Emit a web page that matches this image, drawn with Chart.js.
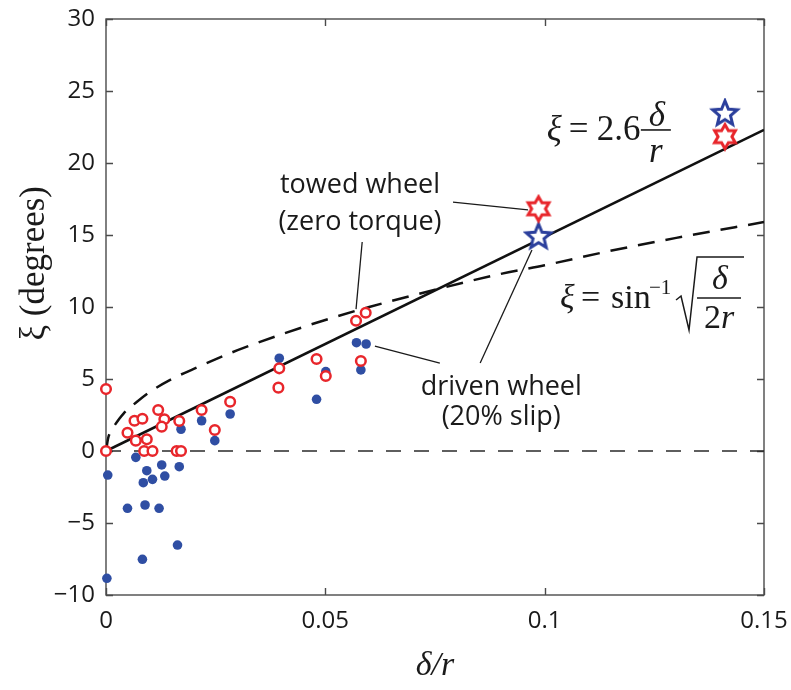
<!DOCTYPE html>
<html>
<head>
<meta charset="utf-8">
<script src="https://cdn.jsdelivr.net/npm/chart.js@4/dist/chart.umd.min.js"></script>
<style>
  html, body { margin: 0; padding: 0; background: #ffffff; }
  #wrap { width: 791px; height: 690px; }
</style>
</head>
<body>
<div id="wrap"><canvas id="c" width="791" height="690"></canvas></div>
<script>
// ---- data ----
const xTicks = [0, 0.05, 0.1, 0.15];
const xTickLabels = ['0', '0.05', '0.1', '0.15'];
const yTicks = [-10, -5, 0, 5, 10, 15, 20, 25, 30];
const yTickLabels = ['\u221210', '\u22125', '0', '5', '10', '15', '20', '25', '30'];

// towed wheel (zero torque) – red open circles
const towedX = [0, 0, 0.0049, 0.0065, 0.0083, 0.0068, 0.0093, 0.0087, 0.0106, 0.0119, 0.0133, 0.0127, 0.0167, 0.0161, 0.0171, 0.0218, 0.0248, 0.0283, 0.0395, 0.0393, 0.0480, 0.0501, 0.0581, 0.0570, 0.0592];
const towedY = [4.3, 0, 1.27, 2.10, 2.24, 0.72, 0.81, 0, 0, 2.85, 2.20, 1.69, 2.08, 0, 0, 2.85, 1.46, 3.42, 5.74, 4.40, 6.39, 5.21, 6.25, 9.05, 9.60];

// driven wheel (20% slip) – blue filled dots
const drivenX = [0.0171, 0.0218, 0.0248, 0.0283, 0.0068, 0.0004, 0.0093, 0.0085, 0.0106, 0.0127, 0.0134, 0.0167, 0.0049, 0.0089, 0.0121, 0.0163, 0.0083, 0.0002, 0.0395, 0.0501, 0.0480, 0.0581, 0.0571, 0.0593];
const drivenY = [1.51, 2.10, 0.72, 2.57, -0.44, -1.67, -1.37, -2.20, -1.97, -0.97, -1.74, -1.09, -3.98, -3.75, -3.98, -6.53, -7.52, -8.84, 6.44, 5.51, 3.59, 5.63, 7.52, 7.43];

// stars
const towedStarX = [0.0986, 0.1411];
const towedStarY = [16.82, 21.83];
const drivenStarX = [0.0986, 0.1411];
const drivenStarY = [14.87, 23.42];

// xi = 2.6 delta/r (solid line)
const fitX = [0, 0.15];
const fitY = [0, 22.3];

// xi = asin(sqrt(delta/2r)) (dashed curve)
const asinX = [0, 0.0005, 0.001, 0.002, 0.004, 0.007, 0.01, 0.015, 0.02, 0.03, 0.04, 0.05, 0.06, 0.075, 0.09, 0.1, 0.115, 0.13, 0.15];
const asinY = [0, 0.9, 1.3, 1.8, 2.6, 3.4, 4.1, 5.0, 5.7, 7.0, 8.1, 9.1, 10.0, 11.2, 12.3, 12.9, 13.9, 14.8, 15.9];

// zero reference line
const zeroX = [0, 0.15];
const zeroY = [0, 0];

const pts = (xs, ys) => xs.map((x, i) => ({ x: x, y: ys[i] }));

// ---- star marker images ----
function starCanvas(points, outerR, innerR, color) {
  const size = Math.ceil(outerR * 2 + 6);
  const c = document.createElement('canvas');
  c.width = size; c.height = size;
  const g = c.getContext('2d');
  const cx = size / 2, cy = size / 2;
  g.beginPath();
  for (let i = 0; i < points * 2; i++) {
    const r = i % 2 === 0 ? outerR : innerR;
    const a = -Math.PI / 2 + i * Math.PI / points;
    const px = cx + r * Math.cos(a), py = cy + r * Math.sin(a);
    if (i === 0) g.moveTo(px, py); else g.lineTo(px, py);
  }
  g.closePath();
  g.fillStyle = '#ffffff';
  g.fill();
  g.lineWidth = 3;
  g.lineJoin = 'miter';
  g.strokeStyle = color;
  g.stroke();
  return c;
}
const RED = '#e8262b';
const BLUE = '#2f4ea3';
const redStar = starCanvas(6, 12, 6.9, RED);
const blueStar = starCanvas(5, 13, 5.8, '#2b3f9c');

// ---- plugins ----
const boxPlugin = {
  id: 'box',
  beforeDatasetsDraw(chart) {
    const { ctx, chartArea: { left, right, top, bottom }, scales: { x, y } } = chart;
    ctx.save();
    ctx.strokeStyle = '#4a4a4a';
    ctx.lineWidth = 1.4;
    ctx.strokeRect(left, top, right - left, bottom - top);
    const L = 7;
    ctx.beginPath();
    x.ticks.forEach(t => {
      const p = Math.round(x.getPixelForValue(t.value)) + 0.5;
      ctx.moveTo(p, bottom); ctx.lineTo(p, bottom - L);
      ctx.moveTo(p, top); ctx.lineTo(p, top + L);
    });
    y.ticks.forEach(t => {
      const p = Math.round(y.getPixelForValue(t.value)) + 0.5;
      ctx.moveTo(left, p); ctx.lineTo(left + L, p);
      ctx.moveTo(right, p); ctx.lineTo(right - L, p);
    });
    ctx.stroke();
    ctx.restore();
  }
};

const notePlugin = {
  id: 'notes',
  afterDatasetsDraw(chart) {
    const { ctx, scales: { x, y } } = chart;
    const px = v => x.getPixelForValue(v);
    const py = v => y.getPixelForValue(v);
    ctx.save();
    ctx.fillStyle = '#1a1a1a';
    ctx.strokeStyle = '#1a1a1a';
    ctx.textBaseline = 'alphabetic';

    // labels
    ctx.font = '27px "Open Sans"';
    ctx.textAlign = 'center';
    ctx.fillText('towed wheel', px(0.0579), py(17.9));
    ctx.fillText('(zero torque)', px(0.0579), py(15.35));
    ctx.fillText('driven wheel', px(0.0901), py(3.89));
    ctx.fillText('(20% slip)', px(0.0901), py(1.82));

    // leader lines
    ctx.lineWidth = 1.3;
    const seg = (x1, y1, x2, y2) => { ctx.beginPath(); ctx.moveTo(px(x1), py(y1)); ctx.lineTo(px(x2), py(y2)); ctx.stroke(); };
    seg(0.0791, 17.29, 0.0962, 16.74);
    seg(0.0584, 14.51, 0.0570, 9.85);
    seg(0.0613, 7.29, 0.0761, 6.11);
    seg(0.0853, 6.11, 0.0971, 13.96);

    // equation 1: xi = 2.6 delta / r
    const ax = px(0.1005), ay = py(21.6);
    ctx.textAlign = 'left';
    ctx.font = 'italic 35px "Liberation Serif"';
    ctx.fillText('\u03BE', ax, ay);
    ctx.font = '35px "Liberation Serif"';
    ctx.fillText('=', ax + 22, ay);
    ctx.fillText('2.6', ax + 50, ay);
    ctx.lineWidth = 1.6;
    ctx.beginPath(); ctx.moveTo(ax + 94, ay - 10); ctx.lineTo(ax + 124, ay - 10); ctx.stroke();
    ctx.textAlign = 'center';
    ctx.font = 'italic 35px "Liberation Serif"';
    ctx.fillText('\u03B4', ax + 110, ay - 14);
    ctx.fillText('r', ax + 109, ay + 22);

    // equation 2: xi = sin^-1 sqrt(delta / 2r)
    const bx = px(0.1035), by = py(9.93);
    ctx.textAlign = 'left';
    ctx.font = 'italic 34px "Liberation Serif"';
    ctx.fillText('\u03BE', bx, by);
    ctx.font = '34px "Liberation Serif"';
    ctx.fillText('=', bx + 21, by);
    ctx.fillText('sin', bx + 51, by);
    ctx.font = '21px "Liberation Serif"';
    ctx.fillText('\u22121', bx + 89, by - 14);
    ctx.lineWidth = 1.5;
    ctx.beginPath();
    ctx.moveTo(bx + 116, by - 8);
    ctx.lineTo(bx + 121, by - 12);
    ctx.lineTo(bx + 129, by + 22);
    ctx.lineTo(bx + 137, by - 51);
    ctx.lineTo(bx + 184, by - 51);
    ctx.stroke();
    ctx.beginPath(); ctx.moveTo(bx + 137, by - 10); ctx.lineTo(bx + 181, by - 10); ctx.stroke();
    ctx.textAlign = 'center';
    ctx.font = 'italic 34px "Liberation Serif"';
    ctx.fillText('\u03B4', bx + 160, by - 19);
    ctx.font = '34px "Liberation Serif"';
    const w2 = ctx.measureText('2').width;
    ctx.font = 'italic 34px "Liberation Serif"';
    const wr = ctx.measureText('r').width;
    const sx = bx + 159 - (w2 + wr) / 2;
    ctx.textAlign = 'left';
    ctx.font = '34px "Liberation Serif"';
    ctx.fillText('2', sx, by + 20);
    ctx.font = 'italic 34px "Liberation Serif"';
    ctx.fillText('r', sx + w2, by + 20);

    ctx.restore();
  }
};

new Chart(document.getElementById('c'), {
  type: 'scatter',
  data: {
    datasets: [
      { label: 'towed star', data: pts(towedStarX, towedStarY), pointStyle: redStar, pointRadius: 12, clip: false },
      { label: 'driven star', data: pts(drivenStarX, drivenStarY), pointStyle: blueStar, pointRadius: 12, clip: false },
      { label: 'towed wheel (zero torque)', data: pts(towedX, towedY), pointStyle: 'circle', pointRadius: 4.8, borderWidth: 2.5, pointBorderWidth: 2.5, borderColor: RED, pointBorderColor: RED, backgroundColor: '#ffffff', pointBackgroundColor: '#ffffff', clip: false },
      { label: 'driven wheel (20% slip)', data: pts(drivenX, drivenY), pointStyle: 'circle', pointRadius: 4.8, pointBorderWidth: 0, borderWidth: 0, backgroundColor: BLUE, pointBackgroundColor: BLUE, clip: false },
      { label: 'xi = 2.6 delta/r', type: 'line', data: pts(fitX, fitY), showLine: true, borderColor: '#111111', borderWidth: 2.6, pointRadius: 0, fill: false, tension: 0 },
      { label: 'xi = asin sqrt(delta/2r)', type: 'line', data: pts(asinX, asinY), showLine: true, borderColor: '#111111', borderWidth: 2.5, borderDash: [17, 11], pointRadius: 0, fill: false, cubicInterpolationMode: 'monotone' },
      { label: 'zero', type: 'line', data: pts(zeroX, zeroY), showLine: true, borderColor: '#2a2a2a', borderWidth: 1.5, borderDash: [15, 13], pointRadius: 0, fill: false }
    ]
  },
  options: {
    responsive: false,
    animation: false,
    events: [],
    layout: { padding: { left: 0, right: 27, top: 19, bottom: 0 } },
    plugins: { legend: { display: false }, tooltip: { enabled: false } },
    scales: {
      x: {
        type: 'linear', min: 0, max: 0.15,
        afterFit(s) { s.height = 95; s.paddingLeft = 0; s.paddingRight = 0; },
        afterBuildTicks(s) { s.ticks = xTicks.map(v => ({ value: v })); },
        grid: { display: false, drawTicks: false },
        border: { display: false },
        ticks: {
          padding: 12, autoSkip: false, maxRotation: 0, color: '#1a1a1a',
          font: { family: '"Open Sans"', size: 24 },
          callback: (v) => { const i = xTicks.indexOf(v); return i >= 0 ? xTickLabels[i] : ''; }
        },
        title: { display: true, text: '\u03B4/r', color: '#1a1a1a', font: { family: '"Liberation Serif"', size: 34, style: 'italic' }, padding: { top: 0, bottom: 4 } }
      },
      y: {
        type: 'linear', min: -10, max: 30,
        afterFit(s) { s.width = 106; s.paddingTop = 0; s.paddingBottom = 0; },
        afterBuildTicks(s) { s.ticks = yTicks.map(v => ({ value: v })); },
        grid: { display: false, drawTicks: false },
        border: { display: false },
        ticks: {
          padding: 11, autoSkip: false, color: '#1a1a1a',
          font: { family: '"Open Sans"', size: 24 },
          callback: (v) => { const i = yTicks.indexOf(v); return i >= 0 ? yTickLabels[i] : ''; }
        },
        title: { display: true, text: '          \u03BE (degrees)', color: '#1a1a1a', font: { family: '"Liberation Serif"', size: 35 }, padding: { top: 14, bottom: 0 } }
      }
    }
  },
  plugins: [boxPlugin, notePlugin]
});
</script>
</body>
</html>
